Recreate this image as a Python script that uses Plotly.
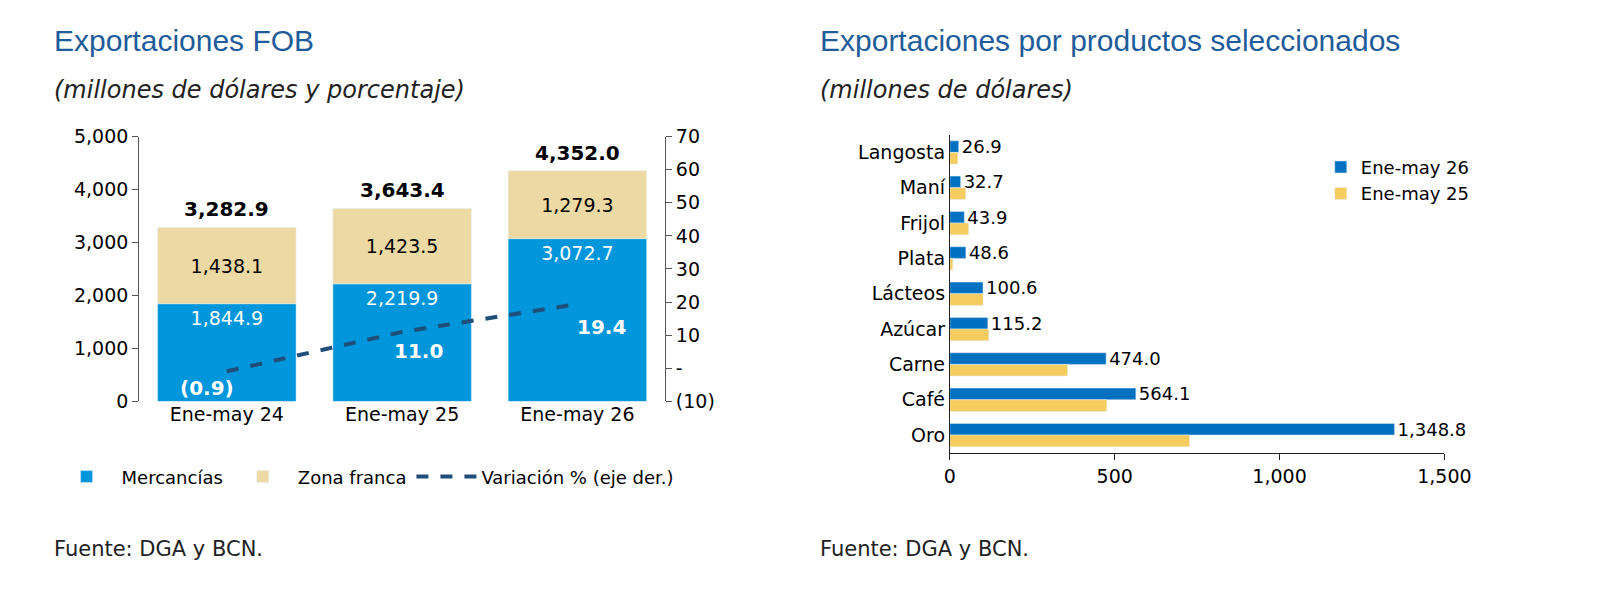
import plotly.graph_objects as go

periods = ["Ene-may 24", "Ene-may 25", "Ene-may 26"]
mercancias = [1844.9, 2219.9, 3072.7]
zona_franca = [1438.1, 1423.5, 1279.3]
totales = [3282.9, 3643.4, 4352.0]
variacion = [-0.9, 11.0, 19.4]
var_labels = ["(0.9)", "11.0", "19.4"]

productos = ["Oro", "Café", "Carne", "Azúcar", "Lácteos", "Plata", "Frijol", "Maní", "Langosta"]
ene26 = [1348.8, 564.1, 474.0, 115.2, 100.6, 48.6, 43.9, 32.7, 26.9]
ene25 = [727, 476, 357, 118, 100.6, 9, 57, 48, 24]

BLUE = "#0096DB"
SAND = "#EDD9A3"
NAVY = "#1F4E79"
B2 = "#0070C0"
Y2 = "#F5CD5F"
F = "DejaVu Sans"

fig = go.Figure()
fig.add_bar(x=periods, y=mercancias, marker_color=BLUE, width=0.79, name="Mercancías",
            text=[f"{v:,.1f}" for v in mercancias], textposition="inside", insidetextanchor="end",
            textfont=dict(color="white", size=19, family=F), legend="legend",
            xaxis="x", yaxis="y")
fig.add_bar(x=periods, y=zona_franca, base=mercancias, marker_color=SAND, width=0.79, name="Zona franca",
            text=[f"{v:,.1f}" for v in zona_franca], textposition="inside", insidetextanchor="middle",
            textfont=dict(color="black", size=19, family=F), legend="legend",
            xaxis="x", yaxis="y")
fig.add_scatter(x=periods, y=variacion, mode="lines", line=dict(color=NAVY, width=4, dash="dash"),
                name="Variación % (eje der.)", legend="legend", xaxis="x", yaxis="y2")

fig.add_bar(y=productos, x=ene26, orientation="h", marker_color=B2, width=0.33, offset=0.0,
            name="Ene-may 26", text=[f"{v:,.1f}" for v in ene26], textposition="outside",
            constraintext="none",
            textfont=dict(color="black", size=18, family=F), cliponaxis=False,
            legend="legend2", xaxis="x3", yaxis="y3")
fig.add_bar(y=productos, x=ene25, orientation="h", marker_color=Y2, width=0.33, offset=-0.33,
            name="Ene-may 25", legend="legend2", xaxis="x3", yaxis="y3")

ann = []
for p, t in zip(periods, totales):
    ann.append(dict(x=p, y=t, xref="x", yref="y", text=f"<b>{t:,.1f}</b>", showarrow=False,
                    yanchor="bottom", yshift=4, font=dict(size=20, family=F, color="black")))
shifts = [(-20, -3), (16, -5), (24, -9)]
for p, v, l, (dx, dy) in zip(periods, variacion, var_labels, shifts):
    ann.append(dict(x=p, y=v, xref="x", yref="y2", text=f"<b>{l}</b>", showarrow=False,
                    xshift=dx, yshift=dy, yanchor="top", font=dict(size=20, family=F, color="white")))
ann += [
    dict(x=0.024, y=0.995, xref="paper", yref="paper", xanchor="left", yanchor="top", showarrow=False,
         text="Exportaciones FOB", font=dict(size=30, color="#1F5C99", family="Liberation Sans")),
    dict(x=0.024, y=0.905, xref="paper", yref="paper", xanchor="left", yanchor="top", showarrow=False,
         text="<i>(millones de dólares y porcentaje)</i>", font=dict(size=24, color="#222", family=F)),
    dict(x=0.514, y=0.995, xref="paper", yref="paper", xanchor="left", yanchor="top", showarrow=False,
         text="Exportaciones por productos seleccionados", font=dict(size=30, color="#1F5C99", family="Liberation Sans")),
    dict(x=0.514, y=0.905, xref="paper", yref="paper", xanchor="left", yanchor="top", showarrow=False,
         text="<i>(millones de dólares)</i>", font=dict(size=24, color="#222", family=F)),
    dict(x=0.024, y=0.08, xref="paper", yref="paper", xanchor="left", yanchor="middle", showarrow=False,
         text="Fuente: DGA y BCN.", font=dict(size=21, color="#222", family=F)),
    dict(x=0.514, y=0.08, xref="paper", yref="paper", xanchor="left", yanchor="middle", showarrow=False,
         text="Fuente: DGA y BCN.", font=dict(size=21, color="#222", family=F)),
]

tickf = dict(size=19, family=F, color="black")
fig.update_layout(
    width=1598, height=598, margin=dict(l=0, r=0, t=0, b=0),
    paper_bgcolor="white", plot_bgcolor="white", barmode="overlay",
    annotations=ann, font=dict(family=F),
    xaxis=dict(domain=[0.080, 0.416], anchor="y", showline=False, ticks="", tickfont=tickf),
    yaxis=dict(domain=[0.336, 0.796], range=[0, 5000], tickvals=[0, 1000, 2000, 3000, 4000, 5000],
               tickformat=",", showgrid=False, showline=True, linecolor="#555", ticks="outside",
               ticklen=6, tickcolor="#555", tickfont=tickf, zeroline=False),
    yaxis2=dict(overlaying="y", side="right", anchor="x", range=[-10, 70],
                tickvals=[-10, 0, 10, 20, 30, 40, 50, 60, 70],
                ticktext=["(10)", "-", "10", "20", "30", "40", "50", "60", "70"],
                showgrid=False, showline=True, linecolor="#555", ticks="outside", ticklen=6,
                tickcolor="#555", tickfont=tickf, zeroline=False),
    xaxis3=dict(domain=[0.598, 0.914], anchor="y3", range=[0, 1500], tickvals=[0, 500, 1000, 1500],
                tickformat=",", showgrid=False, showline=True, linecolor="#222", ticks="outside",
                ticklen=6, tickcolor="#222", tickfont=tickf, zeroline=False),
    yaxis3=dict(domain=[0.247, 0.799], anchor="x3", range=[-0.5, 8.5], showgrid=False,
                showline=True, linecolor="#222", ticks="", tickfont=tickf),
    legend=dict(orientation="h", x=0.024, y=0.205, xanchor="left", yanchor="middle",
                font=dict(size=18, family=F, color="black"), traceorder="normal", itemwidth=60),
    legend2=dict(x=0.835, y=0.72, xanchor="left", yanchor="middle",
                 font=dict(size=18, family=F, color="black"), bgcolor="rgba(0,0,0,0)"),
)
fig.write_html("out.html")
